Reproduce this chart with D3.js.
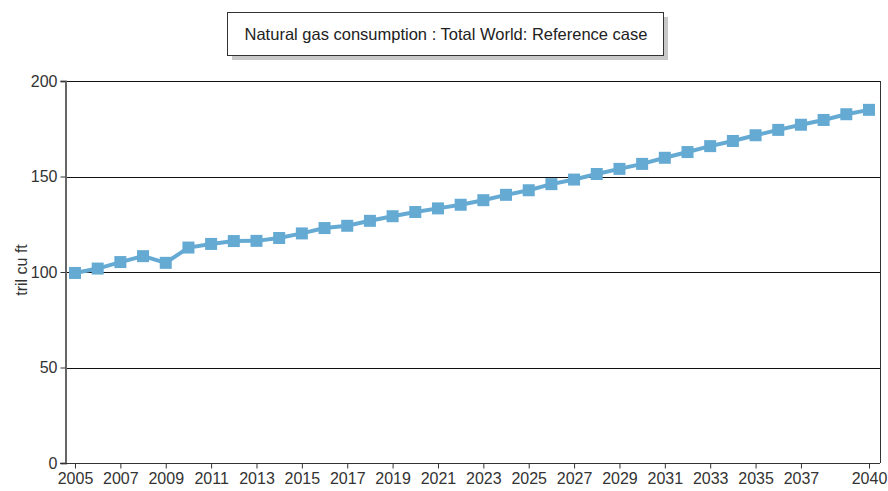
<!DOCTYPE html>
<html>
<head>
<meta charset="utf-8">
<script src="https://cdn.jsdelivr.net/npm/d3@7"></script>
<style>
body { margin: 0; background: #fff; }
text { font-family: "Liberation Sans", Arial, sans-serif; }
</style>
</head>
<body>
<script>
// chart data
var years = d3.range(2005, 2041);
var consumption = [99.5, 101.8, 105.2, 108.3, 104.8, 112.8, 114.7, 116.2, 116.3, 117.8,
    120.2, 123.0, 124.2, 126.8, 129.2, 131.4, 133.3, 135.2, 137.6, 140.4,
    142.8, 146.0, 148.4, 151.3, 154.0, 156.6, 159.8, 162.8, 165.9, 168.6,
    171.6, 174.4, 177.1, 179.6, 182.6, 184.9];
var tickYears = [2005, 2007, 2009, 2011, 2013, 2015, 2017, 2019, 2021, 2023, 2025,
    2027, 2029, 2031, 2033, 2035, 2037, 2040];
var yTicks = [0, 50, 100, 150, 200];
var title = "Natural gas consumption : Total World: Reference case";

var W = 888, H = 491;
var margin = {top: 81, right: 8, bottom: 28, left: 65},
    width = W - margin.left - margin.right,
    height = H - margin.top - margin.bottom;

var svg = d3.select("body").append("svg")
    .attr("width", W)
    .attr("height", H);

// title box with shadow
var tb = {x: 227, y: 12, w: 436, h: 43};
svg.append("rect")
    .attr("x", tb.x + 5).attr("y", tb.y + 5)
    .attr("width", tb.w).attr("height", tb.h)
    .attr("fill", "#c8c8c8");
svg.append("rect")
    .attr("x", tb.x + 0.5).attr("y", tb.y + 0.5)
    .attr("width", tb.w).attr("height", tb.h)
    .attr("fill", "#fff")
    .attr("stroke", "#333");
svg.append("text")
    .attr("x", tb.x + tb.w / 2 + 1)
    .attr("y", tb.y + tb.h / 2 + 6)
    .attr("text-anchor", "middle")
    .style("font-size", "16.5px")
    .attr("fill", "#222")
    .text(title);

var g = svg.append("g")
    .attr("transform", "translate(" + margin.left + "," + margin.top + ")");

var x = d3.scaleLinear().domain([2005, 2040]).range([10, width - 11]);
var y = d3.scaleLinear().domain([0, 200]).range([height, 0]);

// grid lines
g.selectAll(".grid")
    .data(yTicks.filter(function(d) { return d > 0; }))
    .enter().append("line")
    .attr("class", "grid")
    .attr("x1", 0).attr("x2", width)
    .attr("y1", function(d) { return Math.round(y(d)) + 0.5; })
    .attr("y2", function(d) { return Math.round(y(d)) + 0.5; })
    .attr("stroke", "#111");

// right border
g.append("line")
    .attr("x1", width + 0.5).attr("x2", width + 0.5)
    .attr("y1", 0).attr("y2", height)
    .attr("stroke", "#333");

// Y axis
var yAxis = g.append("g")
    .attr("transform", "translate(0.5,0)")
    .call(d3.axisLeft(y).tickValues(yTicks).tickSize(5).tickPadding(3));
yAxis.select(".domain").attr("stroke", "#666").attr("stroke-width", 2);
yAxis.selectAll(".tick line").attr("stroke", "#333");
yAxis.selectAll("text").style("font-size", "16px").attr("fill", "#333")
    .style("font-family", "Liberation Sans, Arial, sans-serif");

// X axis
var xAxis = g.append("g")
    .attr("transform", "translate(0," + (height + 0.5) + ")")
    .call(d3.axisBottom(x).tickValues(tickYears).tickFormat(d3.format("d"))
        .tickSize(5).tickSizeOuter(0).tickPadding(4));
xAxis.select(".domain").attr("d", "M-5,0H" + width).attr("stroke", "#333");
xAxis.selectAll(".tick line").attr("stroke", "#333");
xAxis.selectAll("text").style("font-size", "16px").attr("fill", "#333")
    .style("font-family", "Liberation Sans, Arial, sans-serif");

// y label
svg.append("text")
    .attr("transform", "translate(27,270) rotate(-90)")
    .attr("text-anchor", "middle")
    .style("font-size", "16px")
    .attr("fill", "#333")
    .text("tril cu ft");

var pts = years.map(function(yr, i) { return [yr, consumption[i]]; });

var line = d3.line()
    .x(function(d) { return x(d[0]); })
    .y(function(d) { return y(d[1]); });

g.append("path")
    .attr("d", line(pts))
    .attr("fill", "none")
    .attr("stroke", "#65aad3")
    .attr("stroke-width", 4);

g.selectAll(".pt")
    .data(pts)
    .enter().append("rect")
    .attr("class", "pt")
    .attr("x", function(d) { return x(d[0]) - 6; })
    .attr("y", function(d) { return y(d[1]) - 6; })
    .attr("width", 12)
    .attr("height", 12)
    .attr("fill", "#65aad3");
</script>
</body>
</html>
